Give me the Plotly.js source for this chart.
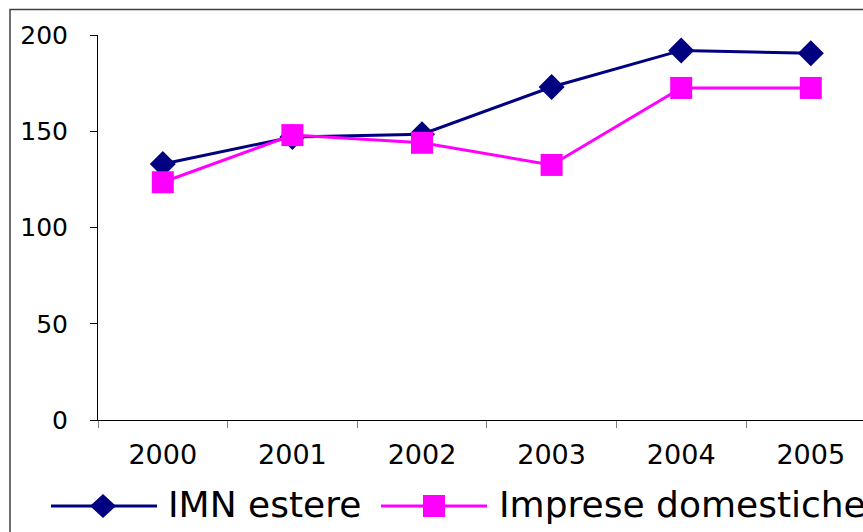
<!DOCTYPE html>
<html>
<head>
<meta charset="utf-8">
<script src="https://cdn.plot.ly/plotly-3.0.1.min.js"></script>
<style>html,body{margin:0;padding:0;background:#fff;}#chart{width:863px;height:532px;}</style>
</head>
<body>
<div id="chart"></div>
<script>
var years = ["2000", "2001", "2002", "2003", "2004", "2005"];
var imnEstere = [133, 147, 148.5, 173, 192, 190.5];
var impreseDomestiche = [123.5, 148, 144, 132.5, 172.5, 172.5];
var seriesNames = ["IMN estere", "Imprese domestiche"];
var yTicks = [0, 50, 100, 150, 200];

var W = 863, H = 532, L = 98, R = 0, T = 35, B = 112;
var pw = W - L - R, ph = H - T - B;
function fx(px) { return (px - L) / pw; }
function fy(py) { return (H - B - py) / ph; }
var catW = 129.6;
var xMax = -0.5 + pw / catW;

var navy = "#000080", magenta = "#FF00FF";
var fam = "DejaVu Sans, Liberation Sans, Arial, sans-serif";

var traces = [
  { x: years, y: imnEstere, name: seriesNames[0], type: "scatter", mode: "lines+markers",
    line: { color: navy, width: 3 },
    marker: { symbol: "diamond", size: 20, color: navy, line: { width: 0 } } },
  { x: years, y: impreseDomestiche, name: seriesNames[1], type: "scatter", mode: "lines+markers",
    line: { color: magenta, width: 3 },
    marker: { symbol: "square", size: 22, color: magenta, line: { width: 0 } } }
];

function diamondPath(cx, cy, hw, hh) {
  return "M" + fx(cx - hw) + "," + fy(cy) + " L" + fx(cx) + "," + fy(cy - hh) +
    " L" + fx(cx + hw) + "," + fy(cy) + " L" + fx(cx) + "," + fy(cy + hh) + " Z";
}

var legY = 506;
var shapes = [
  { type: "rect", xref: "paper", yref: "paper", x0: fx(10), x1: fx(1000), y0: fy(9.5), y1: fy(700),
    line: { color: "#404040", width: 1.5 }, fillcolor: "rgba(0,0,0,0)", layer: "below" },
  { type: "line", xref: "paper", yref: "paper", x0: fx(51), x1: fx(157), y0: fy(legY), y1: fy(legY),
    line: { color: navy, width: 3 } },
  { type: "path", xref: "paper", yref: "paper", path: diamondPath(103, legY, 13, 12),
    fillcolor: navy, line: { width: 0 } },
  { type: "line", xref: "paper", yref: "paper", x0: fx(381), x1: fx(487), y0: fy(legY), y1: fy(legY),
    line: { color: magenta, width: 3 } },
  { type: "rect", xref: "paper", yref: "paper", x0: fx(423), x1: fx(445), y0: fy(legY - 11), y1: fy(legY + 11),
    fillcolor: magenta, line: { width: 0 } }
];

var annotations = [
  { xref: "paper", yref: "paper", x: fx(166), y: fy(504), xanchor: "left", yanchor: "middle",
    text: seriesNames[0], showarrow: false, font: { family: fam, size: 36, color: "#000" } },
  { xref: "paper", yref: "paper", x: fx(497), y: fy(504), xanchor: "left", yanchor: "middle",
    text: seriesNames[1], showarrow: false, font: { family: fam, size: 36, color: "#000" } }
];

var layout = {
  width: W, height: H,
  margin: { l: L, r: R, t: T, b: B, pad: 0 },
  paper_bgcolor: "#fff", plot_bgcolor: "#fff",
  showlegend: false,
  font: { family: fam, color: "#000" },
  xaxis: {
    type: "category", range: [-0.5, xMax], tickson: "boundaries",
    showline: true, linecolor: "#000", linewidth: 1,
    ticks: "outside", ticklen: 7, tickcolor: "#808080", tickwidth: 1,
    showgrid: false, zeroline: false, fixedrange: true,
    tickfont: { size: 27, color: "#000" }, ticklabelstandoff: 11
  },
  yaxis: {
    range: [0, 200], tickvals: yTicks, ticktext: yTicks.map(String),
    showline: true, linecolor: "#000", linewidth: 1,
    ticks: "outside", ticklen: 7, tickcolor: "#000", tickwidth: 1,
    showgrid: false, zeroline: false, fixedrange: true,
    tickfont: { size: 25, color: "#000" }, ticklabelstandoff: 17
  },
  shapes: shapes,
  annotations: annotations
};

Plotly.newPlot("chart", traces, layout, { staticPlot: true, displayModeBar: false });
</script>
</body>
</html>
